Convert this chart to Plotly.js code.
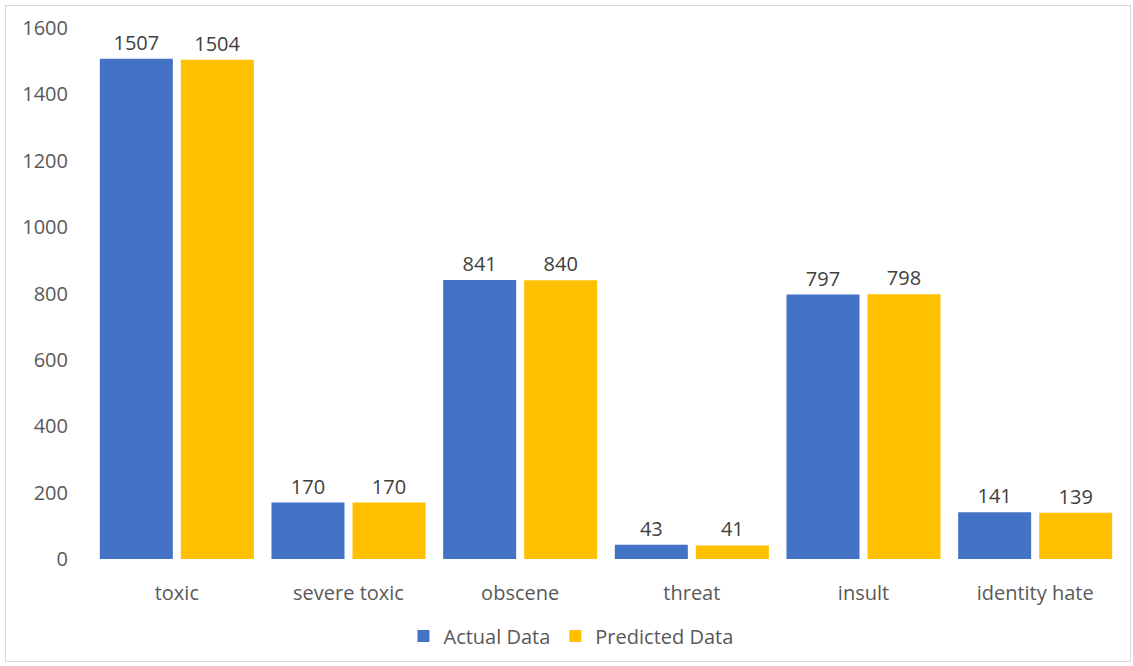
<!DOCTYPE html>
<html>
<head>
<meta charset="utf-8">
<script src="https://cdn.plot.ly/plotly-3.0.1.min.js"></script>
<style>
html,body{margin:0;padding:0;background:#fff;}
#wrap{position:relative;width:1133px;height:666px;}
#chart{width:1133px;height:666px;}
#frame{position:absolute;left:5px;top:5px;width:1124px;height:655px;border:1px solid #d9d9d9;pointer-events:none;}
</style>
</head>
<body>
<div id="wrap"><div id="chart"></div><div id="frame"></div></div>
<script>
const categories = ["toxic", "severe toxic", "obscene", "threat", "insult", "identity hate"];
const actualData = [1507, 170, 841, 43, 797, 141];
const predictedData = [1504, 170, 840, 41, 798, 139];
const yTicks = [0, 200, 400, 600, 800, 1000, 1200, 1400, 1600];

const fontFam = "Open Sans, Noto Sans, sans-serif";
const traces = [
  {type:"bar", name:"Actual Data", x:categories, y:actualData, marker:{color:"#4472C4"},
   text:actualData.map(String), textposition:"outside", cliponaxis:false,
   textfont:{size:20, color:"#404040", family:fontFam}, hoverinfo:"none"},
  {type:"bar", name:"Predicted Data", x:categories, y:predictedData, marker:{color:"#FFC000"},
   text:predictedData.map(String), textposition:"outside", cliponaxis:false,
   textfont:{size:20, color:"#404040", family:fontFam}, hoverinfo:"none"}
];
const layout = {
  width:1133, height:666,
  margin:{l:91, r:12, t:28, b:106},
  paper_bgcolor:"#fff", plot_bgcolor:"#fff",
  barmode:"group", bargap:0.056, bargroupgap:0.099,
  font:{family:fontFam, color:"#595959"},
  xaxis:{showgrid:false, zeroline:false, showline:false, ticks:"", tickfont:{size:20, color:"#595959"}, ticklabelstandoff:20},
  yaxis:{range:[0,1600], tickvals:yTicks, ticktext:yTicks.map(String), showgrid:false, zeroline:false, showline:false,
         ticks:"", tickfont:{size:20, color:"#595959"}, ticklabelstandoff:22},
  showlegend:true,
  legend:{orientation:"h", x:0.466, xanchor:"center", y:-0.143, yanchor:"middle", font:{size:20, color:"#595959"},
          itemwidth:30, traceorder:"normal"}
};
Plotly.newPlot("chart", traces, layout, {displayModeBar:false, staticPlot:true});
</script>
</body>
</html>
